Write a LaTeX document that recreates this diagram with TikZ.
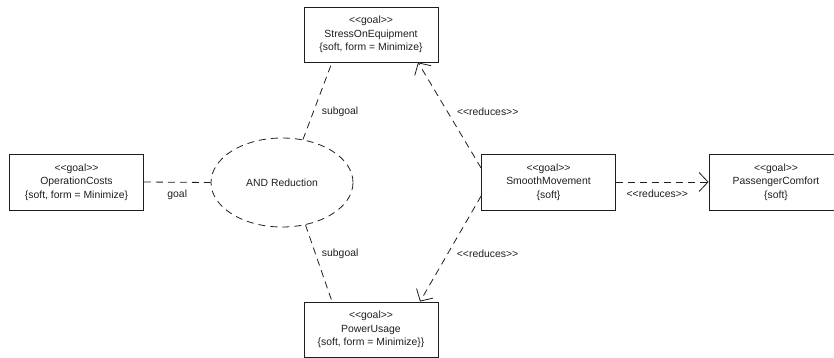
\documentclass[tikz,border=0pt]{standalone}
\usepackage{fontspec}
\setmainfont{Liberation Sans}
\usetikzlibrary{shapes.geometric, arrows.meta, positioning, calc}
\definecolor{umlink}{RGB}{30, 30, 30}
\newcommand{\stype}[1]{<{}<#1>{}>}

\begin{document}
\begin{tikzpicture}[x=1pt, y=-1pt,
  goalbox/.style={draw=umlink, rectangle, line width=0.8pt, minimum width=134pt,
    minimum height=56pt, align=center, inner sep=2pt, text=umlink,
    font=\fontsize{10.4}{13.5}\selectfont},
  andnode/.style={draw=umlink, ellipse, line width=0.8pt, dash pattern=on 7pt off 5pt,
    minimum width=142pt, minimum height=89pt, inner sep=0pt, text=umlink,
    font=\fontsize{10.4}{13.5}\selectfont},
  link/.style={umlink, line width=0.8pt, dash pattern=on 7pt off 5pt},
  reduce/.style={link, -{Straight Barb[length=9pt, width=19pt]}},
  lbl/.style={text=umlink, font=\fontsize{10.4}{13.5}\selectfont, inner sep=1pt}]
  \useasboundingbox (0,0) rectangle (834,358);

  % Goals
  \node[goalbox] (opcost) at (76.5,182) {\stype{goal}\\OperationCosts\\\{soft, form = Minimize\}};
  \node[goalbox, minimum height=55pt] (stress) at (371,34.5) {\stype{goal}\\StressOnEquipment\\\{soft, form = Minimize\}};
  \node[goalbox, minimum height=55pt] (power) at (371,329.5) {\stype{goal}\\PowerUsage\\\{soft, form = Minimize\}\}};
  \node[goalbox] (smooth) at (548.5,182) {\stype{goal}\\SmoothMovement\\\{soft\}};
  \node[goalbox] (comfort) at (776,182) {\stype{goal}\\PassengerComfort\\\{soft\}};

  % Refinement
  \node[andnode] (andred) at (282,182.5) {AND Reduction};

  % Links
  \draw[link] (opcost.east) -- node[lbl, below=6pt] {goal} (andred.west);
  \draw[link] (andred.64) -- node[lbl, pos=0.36, right=7pt] {subgoal} ([xshift=-39pt]stress.south);
  \draw[link] (andred.-61) -- node[lbl, pos=0.38, right=5pt] {subgoal} ([xshift=-39pt]power.north);
  \draw[reduce] ([yshift=14pt]smooth.west) -- node[lbl, pos=0.53, right=8pt] {\stype{reduces}} ([xshift=47pt]stress.south);
  \draw[reduce] ([yshift=-14pt]smooth.west) -- node[lbl, pos=0.55, right=8pt] {\stype{reduces}} ([xshift=49pt]power.north);
  \draw[reduce] (smooth.east) -- node[lbl, below=7pt, xshift=-5pt] {\stype{reduces}} (comfort.west);
\end{tikzpicture}
\end{document}
